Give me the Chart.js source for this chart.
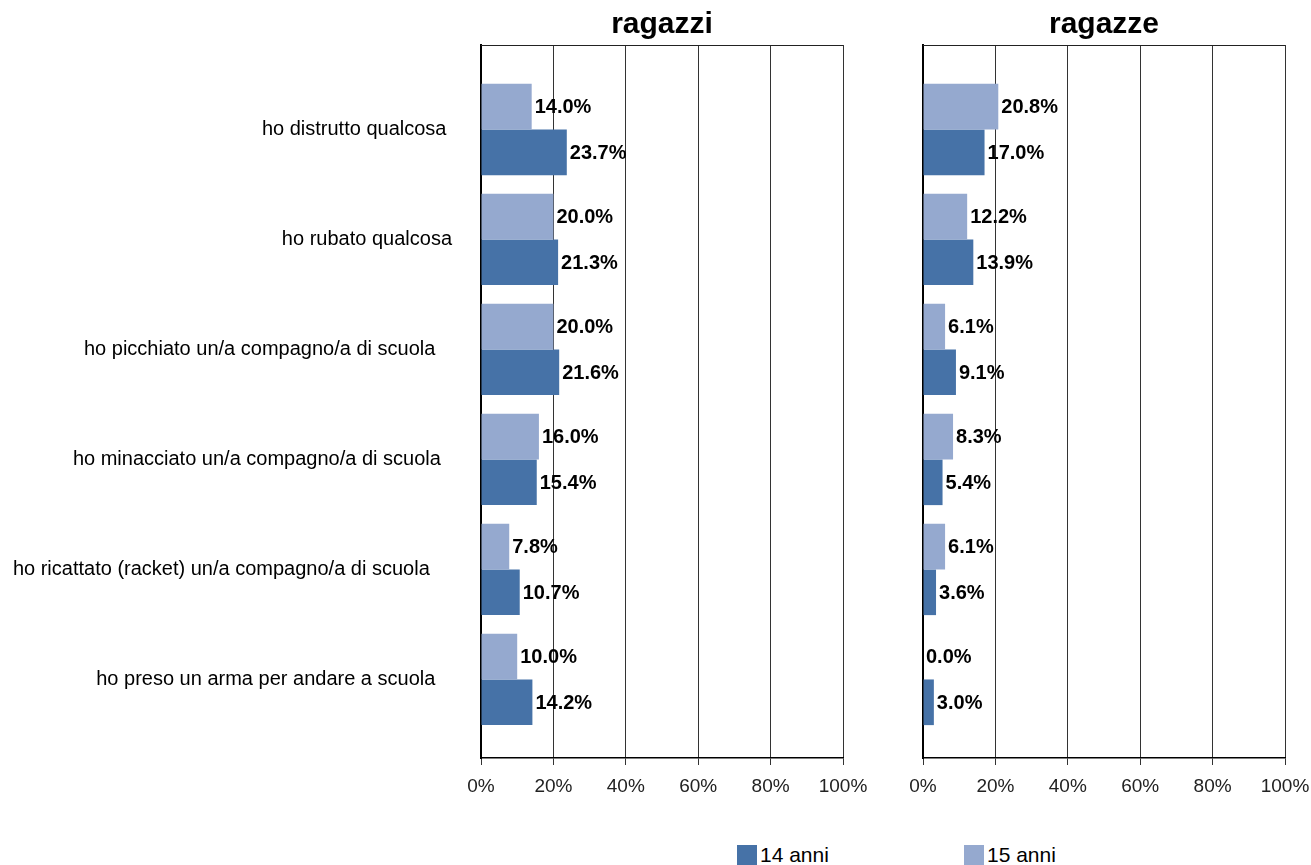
<!DOCTYPE html>
<html>
<head>
<meta charset="utf-8">
<script src="https://cdn.jsdelivr.net/npm/chart.js@4"></script>
<style>
  body { margin: 0; width: 1311px; height: 865px; overflow: hidden; background: #fff; font-family: "Liberation Sans", Arial, sans-serif; }
  .pannello { position: absolute; top: 0; height: 810px; }
  .titolo { position: absolute; top: 6px; font-weight: bold; font-size: 30px; color: #000; transform: translateX(-50%); }
  .legenda { position: absolute; top: 843px; font-size: 21px; color: #000; display: flex; align-items: center; }
  .legenda span.q { display: inline-block; width: 20px; height: 20px; margin-right: 3px; }
</style>
</head>
<body>
<div class="pannello" style="left:0;width:880px"><canvas id="ragazzi"></canvas></div>
<div class="pannello" style="left:880px;width:445px"><canvas id="ragazze"></canvas></div>
<div class="titolo" style="left:662px">ragazzi</div>
<div class="titolo" style="left:1104px">ragazze</div>
<div class="legenda" style="left:737px"><span class="q" style="background:#4672A7"></span>14 anni</div>
<div class="legenda" style="left:964px"><span class="q" style="background:#95A9CF"></span>15 anni</div>
<script>
// le etichette originali hanno spazi finali
const categorie = [
  "ho distrutto qualcosa ",
  "ho rubato qualcosa",
  "ho picchiato un/a compagno/a di scuola   ",
  "ho minacciato un/a compagno/a di scuola  ",
  "ho ricattato (racket) un/a compagno/a di scuola    ",
  "ho preso un arma per andare a scuola   "
];
const ragazzi14 = [23.7, 21.3, 21.6, 15.4, 10.7, 14.2];
const ragazzi15 = [14.0, 20.0, 20.0, 16.0, 7.8, 10.0];
const ragazze14 = [17.0, 13.9, 9.1, 5.4, 3.6, 3.0];
const ragazze15 = [20.8, 12.2, 6.1, 8.3, 6.1, 0.0];
const tacche = [0, 20, 40, 60, 80, 100];

const scuro = '#4672A7';
const chiaro = '#95A9CF';
Chart.defaults.font.family = '"Liberation Sans", Arial, sans-serif';
Chart.defaults.color = '#000';

// etichette dei valori accanto alle barre
const etichette = {
  id: 'etichette',
  afterDatasetsDraw(chart) {
    const ctx = chart.ctx;
    ctx.save();
    ctx.font = 'bold 20px "Liberation Sans", Arial, sans-serif';
    ctx.fillStyle = '#000';
    ctx.textBaseline = 'middle';
    chart.data.datasets.forEach((ds, i) => {
      chart.getDatasetMeta(i).data.forEach((bar, j) => {
        ctx.fillText(ds.data[j].toFixed(1) + '%', bar.x + 3, bar.y + 1);
      });
    });
    ctx.restore();
  }
};

// linea superiore del riquadro
const cornice = {
  id: 'cornice',
  afterDraw(chart) {
    const a = chart.chartArea;
    const ctx = chart.ctx;
    ctx.save();
    ctx.strokeStyle = '#222';
    ctx.lineWidth = 1;
    ctx.beginPath();
    ctx.moveTo(a.left, a.top + 0.5);
    ctx.lineTo(a.right, a.top + 0.5);
    ctx.stroke();
    ctx.restore();
  }
};

function grafico(id, v14, v15, larghezzaAsse, destra, mostraCategorie) {
  return new Chart(document.getElementById(id), {
    type: 'bar',
    data: {
      labels: categorie,
      datasets: [
        { label: '15 anni', data: v15, backgroundColor: chiaro },
        { label: '14 anni', data: v14, backgroundColor: scuro }
      ]
    },
    options: {
      indexAxis: 'y',
      responsive: true,
      maintainAspectRatio: false,
      animation: false,
      categoryPercentage: 0.83,
      barPercentage: 1.0,
      layout: { padding: { top: 45, right: destra, bottom: 0, left: 0 } },
      plugins: { legend: { display: false }, tooltip: { enabled: false } },
      scales: {
        x: {
          min: 0,
          max: 100,
          afterBuildTicks: s => { s.ticks = tacche.map(v => ({ value: v })); },
          afterFit: s => { s.height = 52; },
          ticks: { callback: v => v + '%', font: { size: 19 }, color: '#222', padding: 10 },
          grid: { color: '#333', lineWidth: 1, drawTicks: true, tickLength: 7 },
          border: { color: '#000', width: 1.5 }
        },
        y: {
          afterBuildTicks: s => { s._startValue = -0.768; s._valueRange = 6.482; },
          afterFit: s => { s.width = larghezzaAsse; },
          ticks: { display: mostraCategorie, font: { size: 20 }, padding: 29 },
          grid: { display: false, drawTicks: false },
          border: { color: '#000', width: 2 }
        }
      }
    },
    plugins: [etichette, cornice]
  });
}

grafico('ragazzi', ragazzi14, ragazzi15, 481, 37, true);
grafico('ragazze', ragazze14, ragazze15, 43, 40, false);
</script>
</body>
</html>
